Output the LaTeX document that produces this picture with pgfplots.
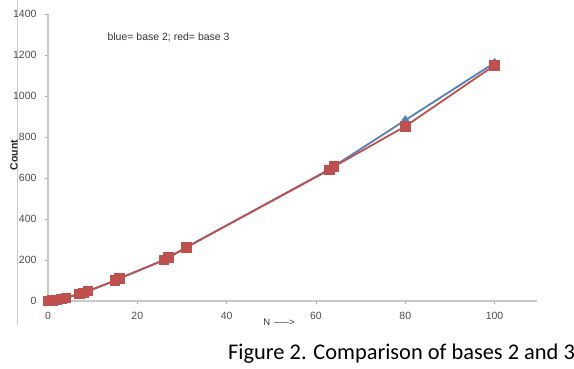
\documentclass[border=0pt]{standalone}
\usepackage{fontspec}
\setmainfont{Liberation Sans}
\newfontfamily\capfont{Carlito}
\usepackage{pgfplots}
\pgfplotsset{compat=1.18}
\definecolor{xlblue}{HTML}{4F81BD}
\definecolor{xlred}{HTML}{C0504D}
\definecolor{axgray}{HTML}{C8C8C8}

\begin{document}
\begin{tikzpicture}[x=1pt,y=1pt]
\useasboundingbox (0,0) rectangle (574,368);
\clip (0,0) rectangle (574,368);
\fill[white] (0,0) rectangle (574,368);
\draw[black!20,line width=0.8pt] (17,368) -- (17,43);
\begin{axis}[at={(48pt,67pt)},anchor=south west,scale only axis,
 width=489pt,height=287pt,
 xmin=0,xmax=109.5,ymin=0,ymax=1400,
 axis lines=left,
 axis line style={-,draw=axgray,line width=1.6pt},
 xtick={0,20,...,100},ytick={0,200,...,1400},
 tick align=outside,major tick length=3pt,
 tick style={draw=black!35,line width=0.6pt},
 /pgf/number format/assume math mode=true,
 /pgf/number format/1000 sep={},
 tick label style={font=\fontsize{10.5}{12}\selectfont,text=black!70},
 yticklabel style={xshift=-5pt},
 xticklabel style={yshift=-5pt},
 clip=false]
 \addplot[xlblue,line width=1.8pt,mark=diamond*,mark size=3.5pt,mark options={solid}] coordinates {
 (0,0) (1,2) (2,5) (3,10) (4,15) (7,35) (8,40) (9,48) (15,100) (16,110)
 (26,200) (27,212) (31,262) (63,642) (64,657) (80,882) (100,1162)};
 \addplot[xlred,line width=1.8pt,mark=square*,mark size=4.4pt,mark options={solid}] coordinates {
 (0,0) (1,2) (2,5) (3,10) (4,15) (7,35) (8,40) (9,48) (15,100) (16,110)
 (26,200) (27,212) (31,262) (63,640) (64,655) (80,852) (100,1150)};
\end{axis}
\node[font=\bfseries\fontsize{10.5}{12}\selectfont,rotate=90,text=black!85] at (14,213) {Count};
\node[font=\fontsize{10.5}{12}\selectfont,text=black!80,anchor=west] at (104,331) {blue= base 2; red= base 3};
\node[font=\fontsize{9.5}{11}\selectfont,text=black!80] at (279,46) {N \,----->};
\node[font=\capfont\fontsize{22.4}{26}\selectfont,anchor=base west,inner sep=0pt] at (228,9) {Figure 2. Comparison of bases 2 and 3};
\end{tikzpicture}
\end{document}
